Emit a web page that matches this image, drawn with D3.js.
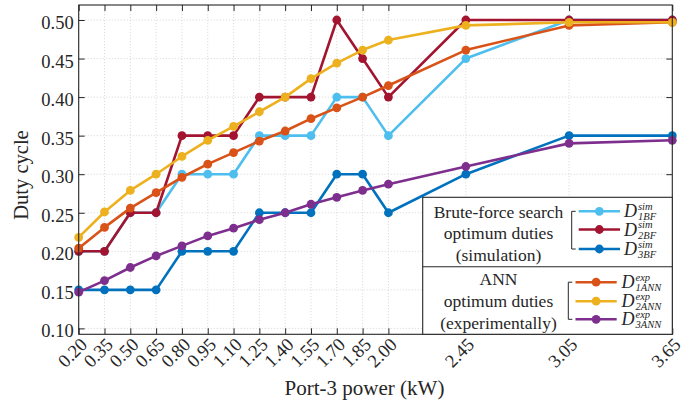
<!DOCTYPE html>
<html>
<head>
<meta charset="utf-8">
<script src="https://cdn.jsdelivr.net/npm/d3@7"></script>
<style>
  html, body { margin: 0; padding: 0; background: #fff; }
  svg { display: block; }
  text { font-family: "Liberation Serif", "Times New Roman", serif; fill: #262626; }
</style>
</head>
<body>
<svg id="chart" width="699" height="408"></svg>
<script>
// ---- data ----
const powerKW = [0.20, 0.35, 0.50, 0.65, 0.80, 0.95, 1.10, 1.25, 1.40, 1.55, 1.70, 1.85, 2.00, 2.45, 3.05, 3.65];
const xTickLabels = ["0.20","0.35","0.50","0.65","0.80","0.95","1.10","1.25","1.40","1.55","1.70","1.85","2.00","2.45","3.05","3.65"];
const yTicks = [0.10, 0.15, 0.20, 0.25, 0.30, 0.35, 0.40, 0.45, 0.50];

const D1BF  = [0.20, 0.20, 0.25, 0.25, 0.30, 0.30, 0.30, 0.35, 0.35, 0.35, 0.40, 0.40, 0.35, 0.45, 0.50, 0.50];
const D2BF  = [0.20, 0.20, 0.25, 0.25, 0.35, 0.35, 0.35, 0.40, 0.40, 0.40, 0.50, 0.45, 0.40, 0.50, 0.50, 0.50];
const D3BF  = [0.15, 0.15, 0.15, 0.15, 0.20, 0.20, 0.20, 0.25, 0.25, 0.25, 0.30, 0.30, 0.25, 0.30, 0.35, 0.35];
const D1ANN = [0.204, 0.231, 0.256, 0.276, 0.296, 0.313, 0.328, 0.343, 0.356, 0.372, 0.386, 0.400, 0.415, 0.461, 0.493, 0.497];
const D2ANN = [0.218, 0.251, 0.279, 0.300, 0.323, 0.344, 0.362, 0.381, 0.400, 0.424, 0.444, 0.461, 0.474, 0.493, 0.497, 0.497];
const D3ANN = [0.147, 0.162, 0.179, 0.194, 0.207, 0.220, 0.230, 0.241, 0.250, 0.261, 0.270, 0.279, 0.287, 0.310, 0.340, 0.344];

const seriesNames = ["D1BF", "D2BF", "D3BF", "D1ANN", "D2ANN", "D3ANN"];
const seriesColors = ["#4DBEEE", "#A2142F", "#0072BD", "#D95319", "#EDB120", "#7E2F8E"];
const seriesValues = [D1BF, D2BF, D3BF, D1ANN, D2ANN, D3ANN];
const legendSup = ["sim", "sim", "sim", "exp", "exp", "exp"];
const legendSub = ["1BF", "2BF", "3BF", "1ANN", "2ANN", "3ANN"];
const groupText = [["Brute-force search", "optimum duties", "(simulation)"], ["ANN", "optimum duties", "(experimentally)"]];

// ---- layout ----
const L = 78.7, R = 672.3, T = 5, B = 334.3;
const svg = d3.select("#chart");
const x = d3.scaleLinear().domain([0.20, 3.65]).range([L, R]);
const y = d3.scaleLinear().domain([0.5 + 15/771, 0.5 - 314.3/771]).range([T, B]);
const axisColor = "#262626";

// grid
const grid = svg.append("g");
grid.selectAll(".gx").data(powerKW).enter().append("line")
  .attr("x1", d => x(d)).attr("x2", d => x(d)).attr("y1", T).attr("y2", B)
  .attr("stroke", "#d4d4d4").attr("stroke-width", 0.8).attr("stroke-dasharray", "1.2,1.8");
grid.selectAll(".gy").data(yTicks).enter().append("line")
  .attr("x1", L).attr("x2", R).attr("y1", d => y(d)).attr("y2", d => y(d))
  .attr("stroke", "#d4d4d4").attr("stroke-width", 0.8).attr("stroke-dasharray", "1.2,1.8");

// axes via d3 axis generators (inner ticks)
const xAxisB = d3.axisBottom(x).tickValues(powerKW).tickSizeInner(-6).tickSizeOuter(0).tickFormat("");
const xAxisT = d3.axisTop(x).tickValues(powerKW).tickSizeInner(-6).tickSizeOuter(0).tickFormat("");
const yAxisL = d3.axisLeft(y).tickValues(yTicks).tickSizeInner(-6).tickSizeOuter(0).tickFormat("");
const yAxisR = d3.axisRight(y).tickValues(yTicks).tickSizeInner(-6).tickSizeOuter(0).tickFormat("");
function styleAxis(g) {
  g.select(".domain").remove();
  g.selectAll("line").attr("stroke", axisColor).attr("stroke-width", 1);
}
svg.append("g").attr("transform", `translate(0,${B})`).call(xAxisB).call(styleAxis);
svg.append("g").attr("transform", `translate(0,${T})`).call(xAxisT).call(styleAxis);
svg.append("g").attr("transform", `translate(${L},0)`).call(yAxisL).call(styleAxis);
svg.append("g").attr("transform", `translate(${R},0)`).call(yAxisR).call(styleAxis);

// series
const line = d3.line().x((d, i) => x(powerKW[i])).y(d => y(d));
seriesValues.forEach((vals, si) => {
  const g = svg.append("g");
  g.append("path").datum(vals).attr("d", line)
    .attr("fill", "none").attr("stroke", seriesColors[si]).attr("stroke-width", 2.6)
    .attr("stroke-linejoin", "round");
  g.selectAll("circle").data(vals).enter().append("circle")
    .attr("cx", (d, i) => x(powerKW[i])).attr("cy", d => y(d)).attr("r", 4.4)
    .attr("fill", seriesColors[si]);
});

// plot box
svg.append("rect").attr("x", L).attr("y", T).attr("width", R - L).attr("height", B - T)
  .attr("fill", "none").attr("stroke", axisColor).attr("stroke-width", 1.1);

// tick labels
svg.append("g").selectAll("text").data(yTicks).enter().append("text")
  .attr("x", L - 5).attr("y", d => y(d) + 2.5).attr("dy", "0.35em")
  .attr("text-anchor", "end").attr("font-size", 18.5)
  .text(d => d3.format(".2f")(d));
svg.append("g").selectAll("text").data(powerKW).enter().append("text")
  .attr("transform", d => `translate(${x(d) + 5},${341}) rotate(-45)`)
  .attr("dy", "0.35em").attr("text-anchor", "end").attr("font-size", 18.5)
  .text((d, i) => xTickLabels[i]);

// axis titles
svg.append("text").attr("x", 364.5).attr("y", 395).attr("text-anchor", "middle")
  .attr("font-size", 21).text("Port-3 power (kW)");
svg.append("text").attr("transform", `translate(28,175) rotate(-90)`).attr("text-anchor", "middle")
  .attr("font-size", 20.5).text("Duty cycle");

// legend
const lg = svg.append("g");
const LX0 = 422.7, LY0 = 197.3, LYmid = 266.7;
lg.append("rect").attr("x", LX0).attr("y", LY0).attr("width", R - LX0).attr("height", B - LY0)
  .attr("fill", "#fff").attr("stroke", axisColor).attr("stroke-width", 1.1);
lg.append("line").attr("x1", LX0).attr("x2", R).attr("y1", LYmid).attr("y2", LYmid)
  .attr("stroke", axisColor).attr("stroke-width", 1.1);

const textRows = [[211.7, 233.3, 255], [279.3, 301.2, 322.8]];
const entryRows = [[211.3, 229.5, 249], [282.2, 301.2, 319.3]];
const bracketX = [571.7, 568.3];
const lineX = [[578.7, 620], [575.5, 616.7]];
const labelX = [624, 621.5];
groupText.forEach((rows, gi) => {
  rows.forEach((t, ri) => {
    lg.append("text").attr("x", 498.5).attr("y", textRows[gi][ri]).attr("dy", "0.35em")
      .attr("text-anchor", "middle").attr("font-size", 17.5).text(t);
  });
  const y0 = entryRows[gi][0], y1 = entryRows[gi][2], bx = bracketX[gi];
  lg.append("path").attr("d", `M${bx + 4},${y0}H${bx}V${y1}H${bx + 4}`)
    .attr("fill", "none").attr("stroke", axisColor).attr("stroke-width", 1);
  for (let k = 0; k < 3; k++) {
    const si = gi * 3 + k, ey = entryRows[gi][k];
    lg.append("line").attr("x1", lineX[gi][0]).attr("x2", lineX[gi][1]).attr("y1", ey).attr("y2", ey)
      .attr("stroke", seriesColors[si]).attr("stroke-width", 2.6);
    lg.append("circle").attr("cx", (lineX[gi][0] + lineX[gi][1]) / 2).attr("cy", ey).attr("r", 4.4)
      .attr("fill", seriesColors[si]);
    const lx = labelX[gi];
    const t = lg.append("text").attr("x", lx).attr("y", ey + 6).attr("font-style", "italic");
    t.append("tspan").attr("font-size", 18).text("D");
    t.append("tspan").attr("x", lx + 14).attr("dy", -7.5).attr("font-size", 10.5).text(legendSup[si]);
    t.append("tspan").attr("x", lx + 14).attr("dy", 10.5).attr("font-size", 10.5).text(legendSub[si]);
  }
});
</script>
</body>
</html>
